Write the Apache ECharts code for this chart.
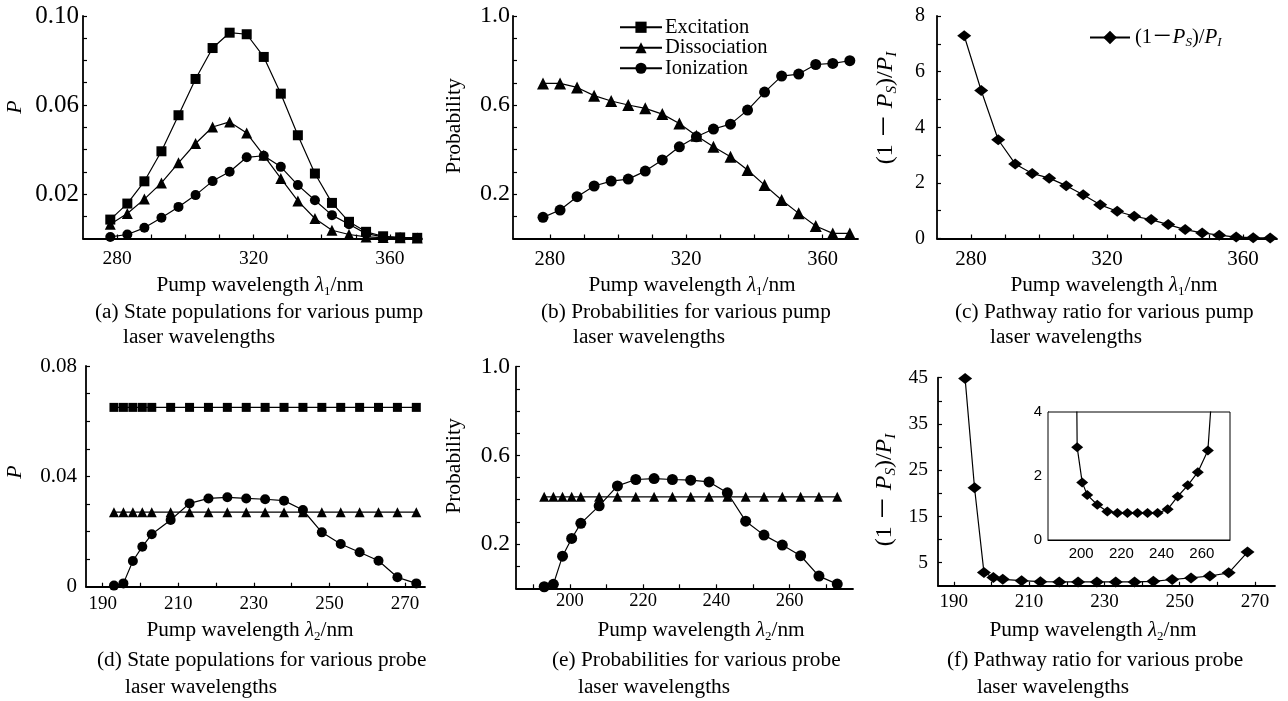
<!DOCTYPE html>
<html><head><meta charset="utf-8">
<script src="https://cdn.jsdelivr.net/npm/echarts@6/dist/echarts.min.js"></script>
<style>html,body{margin:0;padding:0;background:#fff}#c{width:1288px;height:701px}</style>
</head><body><div id="c"></div>
<script>
// ---------- data ----------
const xPump = [278, 283, 288, 293, 298, 303, 308, 313, 318, 323, 328, 333, 338, 343, 348, 353, 358, 363, 368];
const xProbe = [193, 195.5, 198, 200.5, 203, 208, 213, 218, 223, 228, 233, 238, 243, 248, 253, 258, 263, 268, 273];
const xProbeRatio = [193, 195.5, 198, 200.5, 203, 208, 213, 218, 223, 228, 233, 238, 243, 248, 253, 258, 263, 268];

// (a) state populations vs pump wavelength
const aExcitation = [0.0085, 0.0157, 0.0257, 0.0392, 0.0554, 0.0717, 0.0856, 0.0925, 0.0918, 0.0816, 0.0651, 0.0464, 0.0292, 0.016, 0.0075, 0.003, 0.001, 0.0005, 0.0003];
const aDissociation = [0.0064, 0.0112, 0.0177, 0.025, 0.034, 0.0427, 0.0501, 0.0524, 0.0474, 0.0374, 0.027, 0.0169, 0.009, 0.0037, 0.0018, 0.0007, 0.0004, 0.0003, 0.0002];
const aIonization = [0.0007, 0.0018, 0.0048, 0.0093, 0.0142, 0.0195, 0.0258, 0.0300, 0.0365, 0.0372, 0.0322, 0.024, 0.0172, 0.0105, 0.0064, 0.0022, 0.0007, 0.0003, 0.0002];
// (b) probabilities vs pump wavelength
const bDissociation = [0.697, 0.697, 0.679, 0.642, 0.618, 0.600, 0.585, 0.559, 0.517, 0.462, 0.412, 0.367, 0.308, 0.240, 0.173, 0.113, 0.056, 0.023, 0.023];
const bIonization = [0.095, 0.128, 0.188, 0.236, 0.258, 0.267, 0.303, 0.353, 0.412, 0.457, 0.492, 0.514, 0.577, 0.658, 0.730, 0.739, 0.782, 0.787, 0.799];
// (c) pathway ratio vs pump wavelength
const cRatio = [7.29, 5.32, 3.55, 2.68, 2.34, 2.17, 1.90, 1.57, 1.21, 0.98, 0.80, 0.68, 0.50, 0.32, 0.20, 0.12, 0.05, 0.03, 0.02];
// (d) state populations vs probe wavelength
const dExcitation = [0.065, 0.065, 0.065, 0.065, 0.065, 0.065, 0.065, 0.065, 0.065, 0.065, 0.065, 0.065, 0.065, 0.065, 0.065, 0.065, 0.065, 0.065, 0.065];
const dDissociation = [0.027, 0.027, 0.027, 0.027, 0.027, 0.027, 0.027, 0.027, 0.027, 0.027, 0.027, 0.027, 0.027, 0.027, 0.027, 0.027, 0.027, 0.027, 0.027];
const dIonization = [0.0004, 0.0012, 0.0093, 0.0145, 0.019, 0.0242, 0.0302, 0.032, 0.0324, 0.032, 0.0317, 0.0312, 0.0278, 0.0197, 0.0155, 0.0125, 0.0094, 0.0034, 0.0012];
// (e) probabilities vs probe wavelength
const eDissociation = [0.413, 0.413, 0.413, 0.413, 0.413, 0.413, 0.413, 0.413, 0.413, 0.413, 0.413, 0.413, 0.413, 0.413, 0.413, 0.413, 0.413, 0.413, 0.413];
const eIonization = [0.007, 0.018, 0.145, 0.225, 0.293, 0.372, 0.462, 0.491, 0.495, 0.491, 0.488, 0.480, 0.431, 0.303, 0.240, 0.195, 0.147, 0.055, 0.019];
// (f) pathway ratio vs probe wavelength
const fRatio = [44.8, 21.2, 2.9, 1.8, 1.41, 1.1, 0.89, 0.84, 0.84, 0.84, 0.84, 0.84, 0.96, 1.36, 1.71, 2.12, 2.8, 7.3];

// ---------- tick values / labels ----------
const pumpTicks = [280, 290, 300, 310, 320, 330, 340, 350, 360];
const pumpLabels = [280, 320, 360];
const probeTicks = [190, 200, 210, 220, 230, 240, 250, 260, 270];
const probeLabelsDF = [190, 210, 230, 250, 270];
const probeLabelsE = [200, 220, 240, 260];
const insetXLabels = [200, 220, 240, 260];
const popTicksA = [0.01, 0.02, 0.03, 0.04, 0.05, 0.06, 0.07, 0.08, 0.09, 0.10];
const popLabelsA = [0.02, 0.06, 0.10];
const probTicks = [0.1, 0.2, 0.3, 0.4, 0.5, 0.6, 0.7, 0.8, 0.9, 1.0];
const probLabels = [0.2, 0.6, 1.0];
const ratioTicksC = [0, 1, 2, 3, 4, 5, 6, 7, 8];
const ratioLabelsC = [0, 2, 4, 6, 8];
const popTicksD = [0.01, 0.02, 0.03, 0.04, 0.05, 0.06, 0.07, 0.08];
const popLabelsD = [0, 0.04, 0.08];
const ratioTicksF = [5, 10, 15, 20, 25, 30, 35, 40, 45];
const ratioLabelsF = [5, 15, 25, 35, 45];
const insetYTicks = [1, 2, 3];
const insetYLabels = [0, 2, 4];

// ---------- helpers ----------
const SERIF = '"Liberation Serif", "Noto Sans CJK SC", serif';
const SANS = '"Liberation Sans", Arial, sans-serif';
const pts = (xs, ys) => ys.map((y, i) => [xs[i], y]);

function xAx(gi, min, max, ticks, labels, fs, margin, lw, fam) {
  return {
    type: 'value', gridIndex: gi, min, max,
    axisLine: { show: true, onZero: false, lineStyle: { color: '#000', width: lw || 1.8 } },
    axisTick: { show: true, inside: true, length: 4, customValues: ticks, lineStyle: { color: '#000', width: 1.2 } },
    axisLabel: { customValues: labels, fontFamily: fam || SERIF, fontSize: fs, color: '#000', margin },
    splitLine: { show: false }
  };
}
function yAx(gi, min, max, ticks, labels, fmt, fs, margin, lw, fam) {
  return {
    type: 'value', gridIndex: gi, min, max,
    axisLine: { show: true, onZero: false, lineStyle: { color: '#000', width: lw || 1.8 } },
    axisTick: { show: true, inside: true, length: 4, customValues: ticks, lineStyle: { color: '#000', width: 1.2 } },
    axisLabel: { customValues: labels, formatter: fmt, fontFamily: fam || SERIF, fontSize: fs, color: '#000', margin },
    splitLine: { show: false }
  };
}
function line(name, gi, xs, ys, symbol, size, extra) {
  return Object.assign({
    type: 'line', name, xAxisIndex: gi, yAxisIndex: gi, data: pts(xs, ys),
    symbol, symbolSize: size, showSymbol: true,
    lineStyle: { color: '#000', width: 1.2 }, itemStyle: { color: '#000' },
    animation: false, silent: true
  }, extra || {});
}

const rich = {
  i: { fontFamily: SERIF, fontStyle: 'italic', fontSize: 21, lineHeight: 26 },
  i24: { fontFamily: SERIF, fontStyle: 'italic', fontSize: 24, lineHeight: 28 },
  s: { fontFamily: SERIF, fontSize: 13, verticalAlign: 'bottom', lineHeight: 13 },
  si: { fontFamily: SERIF, fontStyle: 'italic', fontSize: 15, verticalAlign: 'bottom', lineHeight: 14 }
};
function txt(x, y, text, opts) {
  opts = opts || {};
  return {
    type: 'text', x, y, rotation: opts.rot || 0, silent: true,
    style: {
      text, fill: '#000', font: (opts.italic ? 'italic ' : '') + (opts.fs || 21.3) + 'px ' + SERIF,
      align: opts.align || 'center', verticalAlign: 'middle', lineHeight: 26, rich
    }
  };
}
const ratioName = '(1 － {i24|P}{si|S})/{i24|P}{si|I}';

const option = {
  backgroundColor: '#fff',
  animation: false,
  grid: [
    { left: 83, top: 16, width: 339, height: 222.5 },
    { left: 513, top: 16, width: 345, height: 222.5 },
    { left: 937, top: 16, width: 340, height: 222.5 },
    { left: 86, top: 366, width: 339, height: 220.7 },
    { left: 516, top: 366.7, width: 337, height: 221.6 },
    { left: 938, top: 377.7, width: 337, height: 208.1 },
    { left: 1048, top: 412, width: 182, height: 128, show: true, borderColor: '#000', borderWidth: 1, backgroundColor: '#fff', z: 5 }
  ],
  xAxis: [
    xAx(0, 270, 369.4, pumpTicks, pumpLabels, 19.5, 11),
    xAx(1, 269.2, 370.4, pumpTicks, pumpLabels, 20.5, 11),
    xAx(2, 270, 370, pumpTicks, pumpLabels, 21, 10),
    xAx(3, 185.6, 275.3, probeTicks, probeLabelsDF, 19, 8),
    xAx(4, 185.3, 277.3, probeTicks, probeLabelsE, 18.5, 4),
    xAx(5, 185.8, 275.3, probeTicks, probeLabelsDF, 19, 7),
    xAx(6, 183.5, 274, insetXLabels, insetXLabels, 15, 6, 1, SANS)
  ],
  yAxis: [
    yAx(0, 0, 0.10, popTicksA, popLabelsA, v => v.toFixed(2), 25, 4),
    yAx(1, 0, 1.0, probTicks, probLabels, v => v.toFixed(1), 24, 3),
    yAx(2, 0, 8, ratioTicksC, ratioLabelsC, v => String(v), 20, 12),
    yAx(3, 0, 0.08, popTicksD, popLabelsD, v => v === 0 ? '0' : v.toFixed(2), 21, 9),
    yAx(4, 0, 1.0, probTicks, probLabels, v => v.toFixed(1), 23.5, 6),
    yAx(5, 0, 45, ratioTicksF, ratioLabelsF, v => String(v), 19.5, 10),
    yAx(6, 0, 4, insetYTicks, insetYLabels, v => String(v), 15, 6, 1, SANS)
  ],
  legend: [
    {
      data: ['Excitation', 'Dissociation', 'Ionization'],
      orient: 'vertical', left: 619, top: 17, itemWidth: 42, itemHeight: 14, itemGap: 0,
      padding: 0, selectedMode: false,
      textStyle: { fontFamily: SERIF, fontSize: 20.5, lineHeight: 19.5, color: '#000', padding: [0, 0, 0, -2] }
    },
    {
      data: ['ratioPump'],
      left: 1089, top: 27, itemWidth: 40, itemHeight: 17, padding: 0, selectedMode: false,
      formatter: () => '(1－{i|P}{si|S})/{i|P}{si|I}',
      textStyle: { fontFamily: SERIF, fontSize: 20.5, color: '#000', rich: {
        i: { fontFamily: SERIF, fontStyle: 'italic', fontSize: 21, lineHeight: 24 },
        si: { fontFamily: SERIF, fontStyle: 'italic', fontSize: 13, verticalAlign: 'bottom', lineHeight: 13 }
      } }
    }
  ],
  series: [
    line('Excitation', 0, xPump, aExcitation, 'rect', 10),
    line('Dissociation', 0, xPump, aDissociation, 'triangle', 11),
    line('Ionization', 0, xPump, aIonization, 'circle', 10),
    line('Dissociation', 1, xPump, bDissociation, 'triangle', 12),
    line('Ionization', 1, xPump, bIonization, 'circle', 11),
    line('ratioPump', 2, xPump, cRatio, 'diamond', [14, 11]),
    line('Excitation', 3, xProbe, dExcitation, 'rect', 9),
    line('Dissociation', 3, xProbe, dDissociation, 'triangle', 10),
    line('Ionization', 3, xProbe, dIonization, 'circle', 10),
    line('Dissociation', 4, xProbe, eDissociation, 'triangle', 10),
    line('Ionization', 4, xProbe, eIonization, 'circle', 11),
    line('ratioProbe', 5, xProbeRatio, fRatio, 'diamond', [14, 11]),
    line('ratioProbeInset', 6, xProbeRatio, fRatio, 'diamond', [12, 10], { clip: true, z: 10 })
  ],
  graphic: [
    // x-axis names
    txt(260, 285, 'Pump wavelength {i|λ}{s|1}/nm'),
    txt(692, 285, 'Pump wavelength {i|λ}{s|1}/nm'),
    txt(1114, 285, 'Pump wavelength {i|λ}{s|1}/nm'),
    txt(250, 630, 'Pump wavelength {i|λ}{s|2}/nm'),
    txt(701, 630, 'Pump wavelength {i|λ}{s|2}/nm'),
    txt(1093, 630, 'Pump wavelength {i|λ}{s|2}/nm'),
    // y-axis names
    txt(15, 107, 'P', { rot: Math.PI / 2, italic: true, fs: 22 }),
    txt(454, 126, 'Probability', { rot: Math.PI / 2, fs: 21.5 }),
    txt(886, 108, ratioName, { rot: Math.PI / 2, fs: 24 }),
    txt(15, 472, 'P', { rot: Math.PI / 2, italic: true, fs: 22 }),
    txt(454, 466, 'Probability', { rot: Math.PI / 2, fs: 21.5 }),
    txt(885, 490, ratioName, { rot: Math.PI / 2, fs: 24 }),
    // captions
    txt(95, 312, '(a) State populations for various pump', { align: 'left' }),
    txt(123, 337, 'laser wavelengths', { align: 'left' }),
    txt(541, 312, '(b) Probabilities for various pump', { align: 'left' }),
    txt(573, 337, 'laser wavelengths', { align: 'left' }),
    txt(955, 312, '(c) Pathway ratio for various pump', { align: 'left' }),
    txt(990, 337, 'laser wavelengths', { align: 'left' }),
    txt(97, 660, '(d) State populations for various probe', { align: 'left' }),
    txt(125, 687, 'laser wavelengths', { align: 'left' }),
    txt(552, 660, '(e) Probabilities for various probe', { align: 'left' }),
    txt(578, 687, 'laser wavelengths', { align: 'left' }),
    txt(947, 660, '(f) Pathway ratio for various probe', { align: 'left' }),
    txt(977, 687, 'laser wavelengths', { align: 'left' })
  ]
};

const chart = echarts.init(document.getElementById('c'), null, { renderer: 'canvas' });
chart.setOption(option);
</script>
</body></html>
